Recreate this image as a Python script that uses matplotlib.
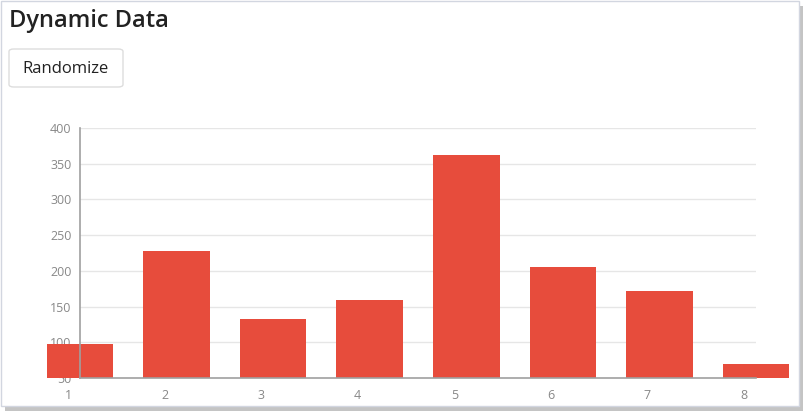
import numpy as np
import matplotlib
matplotlib.use('Agg')
import matplotlib.pyplot as plt
from matplotlib import patches
from matplotlib import transforms

# data
labels = ['1', '2', '3', '4', '5', '6', '7', '8']
values = [98, 228, 132, 159, 362, 205, 172, 69]
y_ticks = [50, 100, 150, 200, 250, 300, 350, 400]

bar_color = '#e74c3c'
W, H = 808, 416

fig = plt.figure(figsize=(W/100, H/100), dpi=100)
fig.patch.set_facecolor('white')

# panel with shadow (kept behind the axes)
shadow = patches.Rectangle((5/W, 5/H), 798/W, 405/H, transform=fig.transFigure,
                           facecolor='#c4c4c4', edgecolor='none', zorder=-3)
panel = patches.Rectangle((1/W, 10/H), 798/W, 405/H, transform=fig.transFigure,
                          facecolor='white', edgecolor='#d2d6e0', linewidth=1.0, zorder=-2)
fig.patches.extend([shadow, panel])

fig.text(9/W, 1 - 27/H, 'Dynamic Data', fontsize=17, fontweight='semibold',
         family='Open Sans', color='#222222', va='baseline', ha='left')

btn = patches.FancyBboxPatch((9/W, 1 - 87/H), 114/W, 38/H, transform=fig.transFigure,
                             boxstyle='round,pad=0,rounding_size=0.006',
                             facecolor='white', edgecolor='#dddddd', linewidth=1.0, zorder=-1)
fig.patches.append(btn)
fig.text(66/W, 1 - 69/H, 'Randomize', fontsize=12, family='Open Sans',
         color='#222222', ha='center', va='center')

ax = fig.add_axes([80/W, 38/H, 676/W, 250/H])
ax.set_zorder(1)
ax.set_facecolor('none')
x = np.arange(1, len(values) + 1)
bars = ax.bar(x, values, width=0.69, color=bar_color, zorder=1)
clip = patches.Rectangle((-0.1, 0), 1.2, 1.0, transform=ax.transAxes)
for b in bars:
    b.set_clip_path(clip)

ax.set_yticks(y_ticks)
ax.set_xticks(x)
ax.set_xticklabels(labels)
ax.set_xlim(1, 8)
ax.set_ylim(50, 400)
ax.tick_params(axis='both', length=0, labelsize=9, labelcolor='#888888')
ax.tick_params(axis='y', pad=6)
ax.tick_params(axis='x', pad=8)
# labels sit ~12px left of the bar centres in the reference
shift = transforms.ScaledTranslation(-12/100, 0, fig.dpi_scale_trans)
for t in ax.get_xticklabels():
    t.set_transform(t.get_transform() + shift)
for t in ax.get_xticklabels() + ax.get_yticklabels():
    t.set_family('Open Sans')

ax.grid(axis='y', color='#e6e6e6', linewidth=1)
ax.set_axisbelow(True)
for s in ['top', 'right']:
    ax.spines[s].set_visible(False)
for s in ['left', 'bottom']:
    ax.spines[s].set_color('#a0a0a0')
    ax.spines[s].set_linewidth(1.2)
    ax.spines[s].set_zorder(3)

fig.savefig('out.png', dpi=100)
